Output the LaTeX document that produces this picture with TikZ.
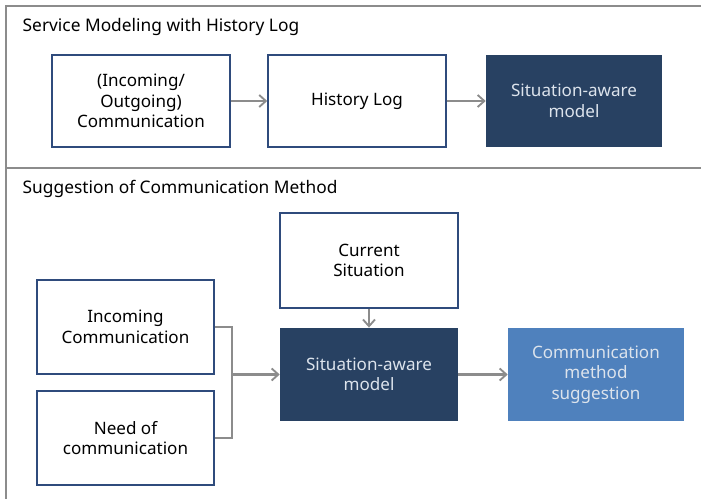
\documentclass[tikz,border=0pt]{standalone}
\usepackage{fontspec}
\setmainfont{Noto Sans}
\usetikzlibrary{arrows.meta}

\definecolor{frameGray}{HTML}{8C8C8C}
\definecolor{boxBlue}{HTML}{2F4B7C}
\definecolor{darkNavy}{HTML}{284162}
\definecolor{lightBlue}{HTML}{4F81BD}
\definecolor{paleText}{HTML}{DCE3EC}

\begin{document}
\begin{tikzpicture}[x=0.75pt,y=-0.75pt,
  plain/.style={draw=boxBlue,line width=1.1pt,fill=white,align=center,
    font=\fontsize{12.8}{15.4}\selectfont,inner sep=0pt},
  navy/.style={fill=darkNavy,text=paleText,align=center,
    font=\fontsize{12.8}{15.4}\selectfont,inner sep=0pt},
  sky/.style={fill=lightBlue,text=paleText,align=center,
    font=\fontsize{12.8}{15.4}\selectfont,inner sep=0pt},
  flow/.style={draw=frameGray,line width=1.6pt,-{Straight Barb[length=5pt,width=9pt,line width=1.4pt]}},
  title/.style={anchor=west,font=\fontsize{13}{15}\selectfont}]
  \useasboundingbox (0,0) rectangle (701,499);

  % frame
  \draw[color=frameGray,line width=1.5pt] (701,6) -- (6,6) -- (6,499);
  \draw[color=frameGray,line width=1.5pt] (6,168) -- (701,168);

  \node[title] (t1) at (18,27) {Service Modeling with History Log};
  \node[title] (t2) at (18,189) {Suggestion of Communication Method};

  % top row
  \node[plain,minimum width=133.5pt,minimum height=69pt] (comm) at (141,101) {(Incoming/\\Outgoing)\\Communication};
  \node[plain,minimum width=133.5pt,minimum height=69pt] (hist) at (357,101) {History Log};
  \node[navy,minimum width=132pt,minimum height=69pt] (model1) at (574,101) {Situation-aware\\model};

  \draw[flow] (comm) -- (hist);
  \draw[flow] (hist) -- (model1);

  % bottom part
  \node[plain,minimum width=133.5pt,minimum height=71pt] (cur) at (369,260.5) {Current\\Situation};
  \node[plain,minimum width=133pt,minimum height=70.5pt] (inc) at (125.5,327) {Incoming\\Communication};
  \node[plain,minimum width=133pt,minimum height=70.5pt] (need) at (125.5,438) {Need of\\communication};
  \node[navy,minimum width=133.5pt,minimum height=70pt] (model2) at (369,374.5) {Situation-aware\\model};
  \node[sky,minimum width=132pt,minimum height=70pt] (sugg) at (596,374.5) {Communication\\method\\suggestion};

  \coordinate (join) at (232,374.5);
  \draw[color=frameGray,line width=1.5pt] (inc.east) -| (join) |- (need.east);
  \draw[flow] (join) -- (model2);
  \draw[flow] (cur) -- (model2);
  \draw[flow] (model2) -- (sugg);
\end{tikzpicture}
\end{document}
